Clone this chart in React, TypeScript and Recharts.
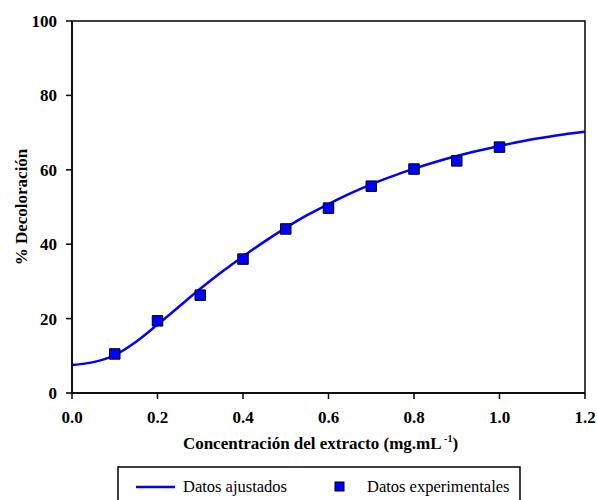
import React from 'react';
import { ComposedChart, Line, Scatter, XAxis, YAxis, ZAxis, ReferenceArea } from 'recharts';

// fitted curve
const fitX = [0, 0.05, 0.1, 0.15, 0.2, 0.25, 0.3, 0.35, 0.4, 0.45, 0.5, 0.55, 0.6, 0.65, 0.7, 0.75, 0.8, 0.85, 0.9, 0.95, 1.0, 1.05, 1.1, 1.15, 1.2];
const fitY = [7.5, 8.3, 10.2, 13.8, 18.4, 23.2, 28.0, 32.5, 36.7, 40.7, 44.4, 47.8, 50.8, 53.6, 56.1, 58.3, 60.3, 62.1, 63.7, 65.1, 66.4, 67.6, 68.6, 69.5, 70.2];

// experimental points
const expX = [0.1, 0.2, 0.3, 0.4, 0.5, 0.6, 0.7, 0.8, 0.9, 1.0];
const expY = [10.5, 19.4, 26.3, 36.0, 44.1, 49.7, 55.6, 60.2, 62.4, 66.1];

const xTicks = [0, 0.2, 0.4, 0.6, 0.8, 1.0, 1.2];
const yTicks = [0, 20, 40, 60, 80, 100];

const fitData = fitX.map((x, i) => ({ x, y: fitY[i] }));
const expData = expX.map((x, i) => ({ x, y: expY[i] }));

const FONT = 'Liberation Serif';
const tickStyle = { fontFamily: FONT, fontWeight: 700, fontSize: 17, fill: '#000' };

const XTitle = (props: any) => {
  const { viewBox } = props;
  const cx = viewBox.x + viewBox.width / 2;
  return (
    <text x={cx - 8} y={449} textAnchor="middle" fontFamily={FONT} fontWeight={700} fontSize={17} fill="#000">
      Concentración del extracto (mg.mL
      <tspan dy={-7} fontSize={10}> -1</tspan>
      <tspan dy={7}>)</tspan>
    </text>
  );
};

const YTitle = (props: any) => {
  const { viewBox } = props;
  const cy = viewBox.y + viewBox.height / 2;
  return (
    <text x={27} y={cy} transform={`rotate(-90 27 ${cy})`} textAnchor="middle" fontFamily={FONT} fontWeight={700} fontSize={17} fill="#000">
      % Decoloración
    </text>
  );
};

export default function App() {
  return (
    <div style={{ position: 'absolute', left: 0, top: 0, width: 597, height: 500, background: '#fff', overflow: 'hidden' }}>
      <ComposedChart width={597} height={500} margin={{ top: 21, right: 12, left: 22, bottom: 87 }}>
        <XAxis
          dataKey="x"
          type="number"
          domain={[0, 1.2]}
          ticks={xTicks}
          tickFormatter={(v) => Number(v).toFixed(1)}
          allowDuplicatedCategory={false}
          height={20}
          stroke="#000"
          strokeWidth={1.5}
          tickSize={6}
          tickMargin={12}
          tick={tickStyle}
          label={<XTitle />}
        />
        <YAxis
          dataKey="y"
          type="number"
          domain={[0, 100]}
          ticks={yTicks}
          width={50}
          stroke="#000"
          strokeWidth={1.5}
          tickSize={6}
          tickMargin={9}
          tick={tickStyle}
          label={<YTitle />}
        />
        <ZAxis range={[110, 110]} />
        <ReferenceArea x1={0} x2={1.2} y1={0} y2={100} fill="none" stroke="#000" strokeWidth={1.5} />
        <Line
          data={fitData}
          dataKey="y"
          type="monotone"
          stroke="#0000ff"
          strokeWidth={2.5}
          dot={false}
          activeDot={false}
          isAnimationActive={false}
        />
        <Scatter
          data={expData}
          dataKey="y"
          shape="square"
          fill="#0000ff"
          stroke="#000"
          strokeWidth={1}
          isAnimationActive={false}
        />
      </ComposedChart>
      <svg width={404} height={40} style={{ position: 'absolute', left: 117, top: 466 }}>
        <rect x={1} y={1} width={402} height={45} fill="#fff" stroke="#000" strokeWidth={1.5} />
        <line x1={19} y1={21} x2={58} y2={21} stroke="#0000ff" strokeWidth={2.5} />
        <rect x={218} y={16} width={9} height={9} fill="#0000ff" stroke="#000" strokeWidth={1} />
        <text x={66} y={26} fontFamily={FONT} fontSize={16.5} fill="#000">Datos ajustados</text>
        <text x={250} y={26} fontFamily={FONT} fontSize={16.5} fill="#000">Datos experimentales</text>
      </svg>
    </div>
  );
}
